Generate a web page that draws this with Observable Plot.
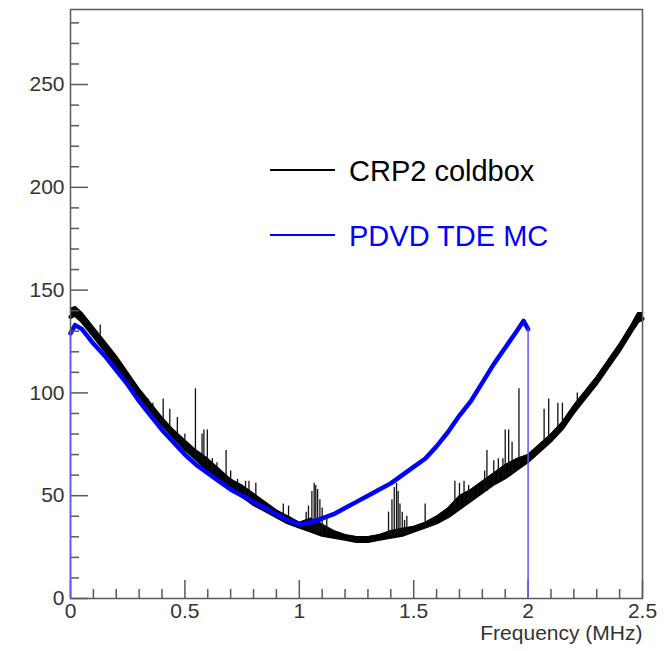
<!DOCTYPE html>
<html><head><meta charset="utf-8">
<script src="https://cdn.jsdelivr.net/npm/d3@7"></script>
<script src="https://cdn.jsdelivr.net/npm/@observablehq/plot@0.6"></script>
<style>
body{margin:0;background:#fff;}
#wrap{position:relative;width:667px;height:651px;font-family:"Liberation Sans",Arial,Helvetica,sans-serif;}
.legline{position:absolute;left:270px;width:65px;height:2px;}
.legtxt{position:absolute;left:349px;font-size:29px;line-height:29px;white-space:nowrap;}
</style></head><body><div id="wrap"></div>
<script>
// CRP2 coldbox (black): band centre and upper noise envelope
const crpFreq = [0.00,0.02,0.05,0.10,0.15,0.20,0.25,0.30,0.35,0.40,0.45,0.50,0.55,0.60,0.65,0.70,0.75,0.80,0.85,0.90,0.95,1.00,1.05,1.10,1.15,1.20,1.25,1.30,1.35,1.40,1.45,1.50,1.55,1.60,1.65,1.70,1.75,1.80,1.85,1.90,1.95,2.00,2.05,2.10,2.15,2.20,2.25,2.30,2.35,2.40,2.45,2.48,2.50];
const crpVal  = [137,138,135,128,121,114,106,99,92,85,79,73,68,63,58,54,50,46,43,40,37,35,33,31,30,29,28,28,29,30,31,33,35,37,40,44,48,52,56,59,63,67,72,77,83,91,98,105,113,121,130,135,136];
const crpTop  = [141,142,139,132,125,118,110,102,95,88,82,77,72,68,63,58,55,51,47,43,40,37,39,36,33,31,30,30,31,33,34,35,37,40,44,50,53,57,61,65,68,70,75,80,86,94,101,108,116,124,133,139,139];
// CRP2 spikes: frequency, bottom, top
const spikeFreq = [0.13,0.34,0.36,0.405,0.434,0.467,0.50,0.546,0.575,0.583,0.598,0.62,0.64,0.68,0.70,0.73,0.765,0.78,0.81,0.93,0.953,1.03,1.04,1.055,1.065,1.072,1.08,1.09,1.10,1.12,1.39,1.405,1.415,1.425,1.432,1.44,1.45,1.46,1.47,1.55,1.68,1.70,1.72,1.74,1.76,1.78,1.81,1.82,1.85,1.87,1.89,1.90,1.915,1.93,1.96,2.07,2.09,2.13,2.15,2.215];
const spikeLow  = [128,93,91,84,81,77,73,68,66,66,64,62,60,56,54,52,49,48,46,39,38,34,33,33,33,32,32,32,31,31,30,30,30,31,31,31,31,31,32,34,43,45,46,47,49,50,52,52,55,57,58,59,60,61,64,74,76,81,83,93];
const spikeHigh = [133,97,95,97,92,88,80,102,80,82,82,68,66,72,62,58,57,57,56,46,45,42,45,52,56,55,53,48,44,40,42,48,54,56,52,46,42,38,40,46,57,56,57,55,54,55,62,72,67,68,68,82,82,76,102,92,97,95,95,100];
// PDVD TDE MC (blue)
const mcFreq = [0.00,0.02,0.05,0.10,0.15,0.20,0.25,0.30,0.35,0.40,0.45,0.50,0.55,0.60,0.65,0.70,0.75,0.80,0.85,0.90,0.95,1.00,1.05,1.10,1.15,1.20,1.25,1.30,1.35,1.40,1.45,1.50,1.55,1.60,1.65,1.70,1.75,1.80,1.85,1.90,1.95,1.98,2.00];
const mcVal  = [129,133,131,124,118,111,104,96,89,82,76,70,65,61,57,53,50,47,44,41,38,36,37,39,41,44,47,50,53,56,60,64,68,74,81,89,96,105,114,122,130,135,131];
// axis ticks
const yMajor = [0,50,100,150,200,250];
const yMinor = [10,20,30,40,60,70,80,90,110,120,130,140,160,170,180,190,210,220,230,240,260,270,280];
const xMajor = [0,0.5,1,1.5,2,2.5];
const xMinor = [0.1,0.2,0.3,0.4,0.6,0.7,0.8,0.9,1.1,1.2,1.3,1.4,1.6,1.7,1.8,1.9,2.1,2.2,2.3,2.4];
const xLabel = "Frequency (MHz)";
const legendLabels = ["CRP2 coldbox","PDVD TDE MC"];

const crp = crpFreq.map((f,i)=>({f, v: crpVal[i], t: crpTop[i]}));
const spikes = spikeFreq.map((f,i)=>({f, lo: spikeLow[i], hi: spikeHigh[i]}));
const mc = mcFreq.map((f,i)=>({f, v: mcVal[i]}));
const mcEdges = [mc[0], mc[mc.length-1]];

const axisColor = "#5a5a5a";
const chart = Plot.plot({
  width: 667, height: 651,
  marginLeft: 70, marginRight: 25, marginTop: 9, marginBottom: 53,
  style: {fontFamily: '"Liberation Sans", Arial, sans-serif', fontSize: "21px", color: "#333", background: "#fff"},
  x: {domain: [0, 2.5], label: null},
  y: {domain: [0, 286.5], label: null},
  marks: [
    Plot.areaY(crp, {x: "f", y1: "v", y2: "t", fill: "#000"}),
    Plot.line(crp, {x: "f", y: "t", stroke: "#000", strokeWidth: 1.5, strokeLinejoin: "round"}),
    Plot.line(crp, {x: "f", y: "v", stroke: "#000", strokeWidth: 4, strokeLinejoin: "round"}),
    Plot.ruleX(spikes, {x: "f", y1: "lo", y2: "hi", stroke: "#111", strokeWidth: 1.3}),
    Plot.line(mc, {x: "f", y: "v", stroke: "#0000ff", strokeWidth: 4.5, strokeLinejoin: "round"}),
    Plot.axisY(yMajor, {tickSize: -18, tickPadding: 24, stroke: axisColor, strokeWidth: 1.5, fill: "#333", label: null, tickFormat: d => String(d)}),
    Plot.axisY(yMinor, {tickSize: -9, stroke: axisColor, strokeWidth: 1.5, label: null, tickFormat: () => ""}),
    Plot.axisX(xMajor, {tickSize: -18, tickPadding: 23, stroke: axisColor, strokeWidth: 1.5, fill: "#333", label: null, tickFormat: d => String(d)}),
    Plot.axisX(xMinor, {tickSize: -9, stroke: axisColor, strokeWidth: 1.5, label: null, tickFormat: () => ""}),
    Plot.text([xLabel], {frameAnchor: "bottom-right", text: d => d, dy: 41, fontSize: 21, fill: "#333", textAnchor: "end"}),
    Plot.frame({stroke: axisColor, strokeWidth: 1.5}),
    Plot.ruleX(mcEdges, {x: "f", y1: 0, y2: "v", stroke: "#5a5aff", strokeWidth: 1.5})
  ]
});
const wrap = document.getElementById("wrap");
wrap.appendChild(chart);

const legColors = ["#000", "#0000ff"];
const legLineY = [170, 235];
const legTxtTop = [157, 222];
legendLabels.forEach((t,i)=>{
  const l = document.createElement("div");
  l.className = "legline"; l.style.top = (legLineY[i]-1)+"px"; l.style.background = legColors[i];
  if (i===1) l.style.height = "1.5px";
  wrap.appendChild(l);
  const s = document.createElement("div");
  s.className = "legtxt"; s.style.top = legTxtTop[i]+"px"; s.style.color = legColors[i]; s.textContent = t;
  wrap.appendChild(s);
});
</script></body></html>
